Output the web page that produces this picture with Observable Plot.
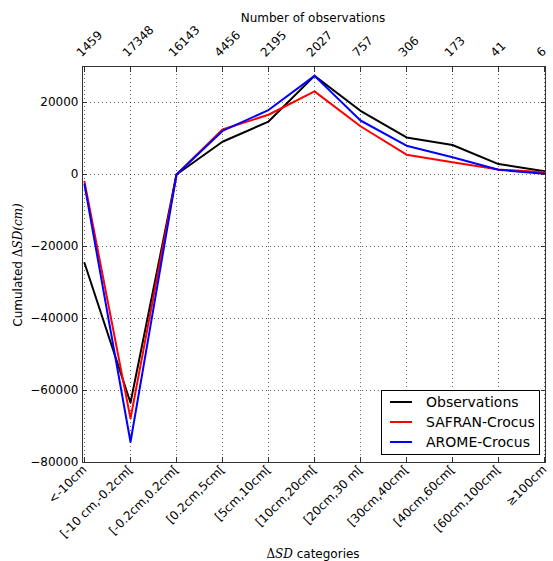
<!DOCTYPE html>
<html>
<head>
<meta charset="utf-8">
<script src="https://cdn.jsdelivr.net/npm/d3@7"></script>
<script src="https://cdn.jsdelivr.net/npm/@observablehq/plot@0.6"></script>
<style>
  body { margin: 0; background: #fff; }
  #chart svg { display: block; }
</style>
</head>
<body>
<div id="chart"></div>
<script>
// Snow depth change categories and the number of observations in each one
const categories = ["<-10cm", "[-10 cm,-0.2cm[", "[-0.2cm,0.2cm[", "[0.2cm,5cm[", "[5cm,10cm[",
  "[10cm,20cm[", "[20cm,30 m[", "[30cm,40cm[", "[40cm,60cm[", "[60cm,100cm[", "\u2265100cm"];
const observationCounts = [1459, 17348, 16143, 4456, 2195, 2027, 757, 306, 173, 41, 6];

// Cumulated ΔSD (cm) per category
const observations = [-24600, -63400, 0, 9100, 14700, 27400, 17700, 10300, 8200, 2900, 900];
const safranCrocus = [-2000, -67800, 0, 12500, 16600, 23100, 13400, 5500, 3400, 1400, 600];
const aromeCrocus = [-2800, -74300, 0, 12100, 17900, 27400, 15000, 8000, 4800, 1300, 200];

const seriesNames = ["Observations", "SAFRAN-Crocus", "AROME-Crocus"];
const seriesColors = ["#000000", "#ff0000", "#0000ff"];
const yTicks = [-80000, -60000, -40000, -20000, 0, 20000];

const seriesValues = [observations, safranCrocus, aromeCrocus];
const rows = seriesNames.flatMap((name, k) =>
  categories.map((category, i) => ({category, series: name, value: seriesValues[k][i]})));
const countRows = categories.map((category, i) => ({category, count: String(observationCounts[i])}));

const minus = d => d < 0 ? "\u2212" + (-d) : String(d);
const grid = {stroke: "#000", strokeOpacity: 0.6, strokeWidth: 1, strokeDasharray: "1,3"};

const svg = Plot.plot({
  width: 553,
  height: 561,
  marginLeft: 82,
  marginRight: 8,
  marginTop: 66,
  marginBottom: 99,
  style: {fontFamily: "DejaVu Sans, sans-serif", fontSize: "12px", color: "#000", background: "#fff"},
  x: {type: "point", domain: categories, padding: 0},
  y: {domain: [-80000, 30000]},
  color: {domain: seriesNames, range: seriesColors},
  marks: [
    Plot.gridX(grid),
    Plot.gridY(yTicks, grid),
    Plot.line(rows, {x: "category", y: "value", z: "series", stroke: "series", strokeWidth: 2}),
    Plot.frame({stroke: "#333", strokeWidth: 1}),
    // inward tick marks on all four sides
    Plot.axisX({anchor: "bottom", tickSize: 5, dy: -5, tickFormat: () => "", label: null, stroke: "#333"}),
    Plot.axisX({anchor: "top", tickSize: 5, dy: 5, tickFormat: () => "", label: null, stroke: "#333"}),
    Plot.axisY(yTicks, {anchor: "left", tickSize: 5, dx: 5, tickFormat: () => "", label: null, stroke: "#333"}),
    Plot.axisY(yTicks, {anchor: "right", tickSize: 5, dx: -5, tickFormat: () => "", label: null, stroke: "#333"}),
    // tick labels
    Plot.axisX({anchor: "bottom", tickSize: 0, tickPadding: 5, tickRotate: -45, textAnchor: "end", label: null}),
    Plot.text(countRows, {x: "category", text: "count", frameAnchor: "top", rotate: -45,
      textAnchor: "start", lineAnchor: "bottom", dy: -9, dx: -3, fontSize: 12, fill: "#000"}),
    Plot.axisY(yTicks, {anchor: "left", tickSize: 0, tickPadding: 4, tickFormat: minus, label: null})
  ]
});

document.getElementById("chart").appendChild(svg);

const root = d3.select(svg);
const serif = "DejaVu Serif, serif";

// top axis title
root.append("text")
  .attr("x", 313).attr("y", 22)
  .attr("text-anchor", "middle")
  .attr("font-family", "DejaVu Sans, sans-serif").attr("font-size", 12)
  .attr("fill", "#000")
  .text("Number of observations");

// bottom axis title
const xt = root.append("text")
  .attr("x", 313).attr("y", 558)
  .attr("text-anchor", "middle")
  .attr("font-family", "DejaVu Sans, sans-serif").attr("font-size", 12)
  .attr("fill", "#000");
xt.append("tspan").attr("font-family", serif).text("\u0394");
xt.append("tspan").attr("font-family", serif).attr("font-style", "italic").text("SD");
xt.append("tspan").text(" categories");

// left axis title
const yt = root.append("text")
  .attr("transform", "translate(22,265) rotate(-90)")
  .attr("text-anchor", "middle")
  .attr("font-family", "DejaVu Sans, sans-serif").attr("font-size", 12)
  .attr("fill", "#000");
yt.append("tspan").text("Cumulated ");
yt.append("tspan").attr("font-family", serif).text("\u0394");
yt.append("tspan").attr("font-family", serif).attr("font-style", "italic").text("SD(cm)");

// legend
const lg = root.append("g");
lg.append("rect")
  .attr("x", 381.5).attr("y", 390.5).attr("width", 158).attr("height", 64)
  .attr("fill", "#fff").attr("stroke", "#000").attr("stroke-width", 1);
seriesNames.forEach((name, i) => {
  const y = 402 + i * 20;
  lg.append("line")
    .attr("x1", 390).attr("x2", 412).attr("y1", y).attr("y2", y)
    .attr("stroke", seriesColors[i]).attr("stroke-width", 2);
  lg.append("text")
    .attr("x", 426).attr("y", y).attr("dy", "0.35em")
    .attr("text-anchor", "start")
    .attr("font-family", "DejaVu Sans, sans-serif").attr("font-size", 14)
    .attr("fill", "#000")
    .text(name);
});
</script>
</body>
</html>
